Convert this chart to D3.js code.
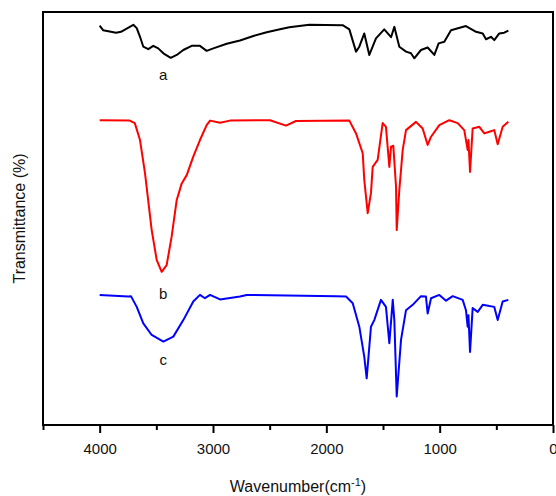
<!DOCTYPE html>
<html>
<head>
<meta charset="utf-8">
<script src="https://cdnjs.cloudflare.com/ajax/libs/d3/7.8.5/d3.min.js"></script>
<style>
  body { margin: 0; background: #fff; }
  svg text { font-family: "Liberation Sans", Arial, sans-serif; fill: #111; }
</style>
</head>
<body>
<svg id="chart"></svg>
<script>
const width = 556, height = 496;
const margin = {left: 43, right: 3, top: 12, bottom: 71};

// spectrum a (black)
const waveA = [4000,3970,3855,3812,3703,3673,3644,3615,3571,3527,3483,3438,3373,3320,3262,3188,3115,3056,2997,2879,2762,2644,2526,2409,2327,2150,1856,1797,1738,1709,1665,1621,1562,1489,1429,1400,1356,1297,1253,1224,1165,1106,1047,1009,959,900,768,679,620,591,547,518,474,430,394];
const transA = [96.7,95.6,95.0,95.2,96.9,96.1,94.0,91.6,91.0,91.8,91.2,90.0,88.9,89.6,90.8,91.8,91.8,90.6,91.2,92.3,93.1,94.2,95.1,95.8,96.3,96.9,96.8,95.8,90.4,91.6,94.8,89.6,93.6,95.8,93.9,96.4,91.6,90.4,90.0,88.8,90.8,91.4,89.6,92.4,92.8,95.6,96.6,95.2,94.8,93.4,94.0,93.2,94.8,95.0,95.5];

// spectrum b (red)
const waveB = [4000,3735,3690,3644,3600,3541,3497,3453,3409,3365,3320,3276,3232,3174,3115,3056,3026,2938,2850,2497,2356,2268,1797,1738,1679,1665,1635,1606,1591,1547,1503,1474,1444,1429,1409,1385,1379,1356,1326,1297,1209,1150,1106,1076,1003,915,841,783,753,746,732,709,650,606,562,518,488,444,394];
const transB = [73.8,73.7,73.1,69.0,61.0,47.2,40.0,37.1,38.7,45.6,54.5,58.5,60.5,65.0,69.0,72.6,73.7,73.2,73.7,73.8,72.5,73.6,73.7,70.6,65.8,59.3,51.3,56.2,62.5,64.2,73.1,72.2,62.5,67.4,67.6,57.7,47.2,56.9,66.6,71.4,73.4,71.8,67.8,69.8,72.6,73.8,73.1,71.4,66.6,69.0,61.3,71.8,72.2,70.6,71.0,71.4,68.0,72.2,73.4];

// spectrum c (blue)
const waveC = [4000,3747,3724,3673,3615,3541,3438,3350,3262,3174,3115,3071,3026,2938,2762,2703,1915,1826,1767,1709,1665,1644,1606,1577,1518,1474,1444,1414,1400,1379,1341,1297,1238,1165,1121,1106,1076,1003,944,885,797,768,753,746,732,709,664,620,562,518,488,444,394];
const transC = [31.5,31.1,31.2,28.6,24.6,21.8,20.2,21.4,25.4,29.9,31.5,30.7,31.5,30.4,31.1,31.5,31.2,31.1,29.5,23.8,16.5,11.3,23.8,25.4,30.3,28.6,19.8,30.3,25.4,6.9,20.6,27.8,29.1,31.2,31.1,27.0,30.7,31.5,30.1,31.2,30.3,27.8,23.8,26.6,17.7,28.3,27.4,29.1,28.8,28.6,25.4,29.9,30.3];

const seriesNames = ["a", "b", "c"];
const seriesColors = ["#000000", "#ff0000", "#0000ff"];
const xTicks = [4000, 3000, 2000, 1000, 0];
const xMinorTicks = [4500, 3500, 2500, 1500, 500];

const svg = d3.select("#chart").attr("width", width).attr("height", height);

const x = d3.scaleLinear().domain([4500, 0]).range([margin.left, width - margin.right]);
const y = d3.scaleLinear().domain([0, 100]).range([height - margin.bottom, margin.top]);

const series = [
  {name: "a", pts: waveA.map((w, i) => [w, transA[i]])},
  {name: "b", pts: waveB.map((w, i) => [w, transB[i]])},
  {name: "c", pts: waveC.map((w, i) => [w, transC[i]])}
];

const line = d3.line().x(d => x(d[0])).y(d => y(d[1]));

svg.selectAll("path.spec")
  .data(series)
  .join("path")
  .attr("class", "spec")
  .attr("d", d => line(d.pts))
  .attr("fill", "none")
  .attr("stroke", (d, i) => seriesColors[i])
  .attr("stroke-width", 2)
  .attr("stroke-linejoin", "round");

// curve labels, placed under each spectrum
const labelPos = [[3440, 83.5], [3440, 30.5], [3440, 14.5]];
svg.selectAll("text.lab")
  .data(seriesNames)
  .join("text")
  .attr("class", "lab")
  .attr("x", (d, i) => x(labelPos[i][0]))
  .attr("y", (d, i) => y(labelPos[i][1]))
  .attr("text-anchor", "middle")
  .style("font-size", "15px")
  .text(d => d);

// frame
svg.append("rect")
  .attr("x", margin.left)
  .attr("y", margin.top)
  .attr("width", width - margin.right - margin.left)
  .attr("height", height - margin.bottom - margin.top)
  .attr("fill", "none")
  .attr("stroke", "#000")
  .attr("stroke-width", 2);

// bottom axis
const xAxis = svg.append("g")
  .attr("transform", "translate(0," + (height - margin.bottom) + ")")
  .call(d3.axisBottom(x).tickValues(xTicks).tickSize(8).tickPadding(10).tickFormat(d3.format("d")));
xAxis.select(".domain").remove();
xAxis.selectAll(".tick line").attr("stroke-width", 2);
xAxis.selectAll(".tick text").style("font-size", "15px").style("font-family", "'Liberation Sans', Arial, sans-serif").attr("fill", "#111");

const xMinor = svg.append("g")
  .attr("transform", "translate(0," + (height - margin.bottom) + ")")
  .call(d3.axisBottom(x).tickValues(xMinorTicks).tickSize(5).tickFormat(""));
xMinor.select(".domain").remove();
xMinor.selectAll(".tick line").attr("stroke-width", 2);

// axis titles
const xt = svg.append("text")
  .attr("x", (margin.left + width - margin.right) / 2)
  .attr("y", 492)
  .attr("text-anchor", "middle")
  .style("font-size", "16px");
xt.append("tspan").text("Wavenumber(cm");
xt.append("tspan").attr("dy", -6).style("font-size", "11px").text("-1");
xt.append("tspan").attr("dy", 6).text(")");

svg.append("text")
  .attr("transform", "translate(25," + ((margin.top + height - margin.bottom) / 2) + ") rotate(-90)")
  .attr("text-anchor", "middle")
  .style("font-size", "16px")
  .text("Transmittance (%)");
</script>
</body>
</html>
